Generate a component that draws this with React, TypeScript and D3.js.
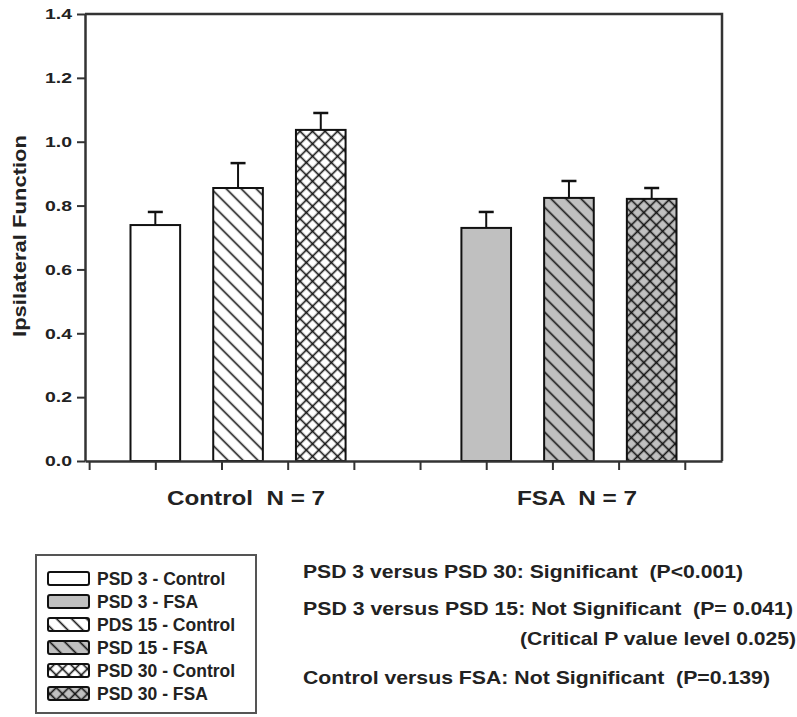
import React, { useEffect, useRef } from 'react';
import * as d3 from 'd3';

// values
const groupLabels = ['Control  N = 7', 'FSA  N = 7'];
const controlMeans = [0.739, 0.855, 1.037];
const controlErr = [0.041, 0.078, 0.053];
const fsaMeans = [0.730, 0.824, 0.821];
const fsaErr = [0.050, 0.053, 0.034];
const yTicks = [0, 0.2, 0.4, 0.6, 0.8, 1.0, 1.2, 1.4];
const legendLabels = [
  'PSD 3 - Control',
  'PSD 3 - FSA',
  'PDS 15 - Control',
  'PSD 15 - FSA',
  'PSD 30 - Control',
  'PSD 30 - FSA',
];
const statLines = [
  'PSD 3 versus PSD 30: Significant  (P<0.001)',
  'PSD 3 versus PSD 15: Not Significant  (P= 0.041)',
  '(Critical P value level 0.025)',
  'Control versus FSA: Not Significant  (P=0.139)',
];

const FONT = '"Liberation Sans", Arial, Helvetica, sans-serif';
const W = 797;
const H = 717;
const margin = { left: 85, top: 14, right: 722, bottom: 461 };

type Bar = { pos: number; mean: number; err: number; fill: string; pattern: string };

const bars: Bar[] = [
  ...controlMeans.map((m, i) => ({
    pos: i,
    mean: m,
    err: controlErr[i],
    fill: '#ffffff',
    pattern: ['none', 'hatchW', 'crossW'][i],
  })),
  ...fsaMeans.map((m, i) => ({
    pos: i + 4,
    mean: m,
    err: fsaErr[i],
    fill: '#c0c0c0',
    pattern: ['none', 'hatchG', 'crossG'][i],
  })),
];

const legendStyles = [
  { fill: '#ffffff', pattern: 'none' },
  { fill: '#c0c0c0', pattern: 'none' },
  { fill: '#ffffff', pattern: 'hatchW' },
  { fill: '#c0c0c0', pattern: 'hatchG' },
  { fill: '#ffffff', pattern: 'crossW' },
  { fill: '#c0c0c0', pattern: 'crossG' },
];

const pre = { whiteSpace: 'pre' as const };

const App = () => {
  const axRef = useRef<SVGGElement>(null);

  const x = d3.scaleLinear().domain([-0.85, 6.85]).range([margin.left, margin.right]);
  const y = d3.scaleLinear().domain([0, 1.4]).range([margin.bottom, margin.top]);
  const barW = x(0.6) - x(0);

  useEffect(() => {
    const g = d3.select(axRef.current);
    g.selectAll('*').remove();

    const yAxis = d3.axisLeft(y).tickValues(yTicks).tickFormat(d3.format('.1f')).tickSize(8).tickSizeOuter(0).tickPadding(5);
    const ya = g.append('g').attr('transform', `translate(${margin.left},0)`).call(yAxis);
    ya.selectAll('text')
      .attr('font-family', FONT)
      .attr('font-weight', 'bold')
      .attr('font-size', 15)
      .attr('fill', '#222')
      .attr('textLength', 27)
      .attr('lengthAdjust', 'spacingAndGlyphs');

    const xAxis = d3.axisBottom(x).tickValues(d3.range(10).map(k => -0.8 + 0.8 * k)).tickSize(9).tickSizeOuter(0).tickFormat(() => '');
    const xa = g.append('g').attr('transform', `translate(0,${margin.bottom})`).call(xAxis);

    g.selectAll('.domain').attr('stroke', '#333').attr('stroke-width', 2.5);
    g.selectAll('.tick line').attr('stroke', '#333').attr('stroke-width', 2);
    xa.raise();
  }, []);

  return (
    <svg width={W} height={H} style={{ display: 'block', position: 'absolute', left: 0, top: 0, background: '#fff' }}>
      <defs>
        {[['W', '#ffffff'], ['G', '#c0c0c0']].map(([k, c]) => (
          <React.Fragment key={k}>
            <pattern id={'hatch' + k} patternUnits="userSpaceOnUse" width={10.6} height={10.6} patternTransform="rotate(-45)">
              <rect width={10.6} height={10.6} fill={c} />
              <line x1={5.3} y1={0} x2={5.3} y2={10.6} stroke="#111" strokeWidth={1.6} />
            </pattern>
            <pattern id={'cross' + k} patternUnits="userSpaceOnUse" width={8.84} height={8.84} patternTransform="rotate(45)">
              <rect width={8.84} height={8.84} fill={c} />
              <line x1={4.42} y1={0} x2={4.42} y2={8.84} stroke="#111" strokeWidth={1.6} />
              <line x1={0} y1={4.42} x2={8.84} y2={4.42} stroke="#111" strokeWidth={1.6} />
            </pattern>
          </React.Fragment>
        ))}
      </defs>

      {/* frame: top and right */}
      <path
        d={`M${margin.left},${margin.top}H${margin.right}V${margin.bottom}`}
        fill="none"
        stroke="#333"
        strokeWidth={2.5}
      />

      {/* bars with upward error bars */}
      {bars.map((b, i) => {
        const cx = x(b.pos);
        const top = y(b.mean);
        const et = y(b.mean + b.err);
        return (
          <g key={i}>
            <line x1={cx} x2={cx} y1={top} y2={et} stroke="#111" strokeWidth={2} />
            <line x1={cx - 7.5} x2={cx + 7.5} y1={et} y2={et} stroke="#111" strokeWidth={2.5} />
            <rect
              x={cx - barW / 2}
              y={top}
              width={barW}
              height={y(0) - top}
              fill={b.pattern === 'none' ? b.fill : `url(#${b.pattern})`}
              stroke="#111"
              strokeWidth={2}
            />
          </g>
        );
      })}

      <g ref={axRef} />

      {/* y title */}
      <text
        transform={`translate(26,236) rotate(-90)`}
        textAnchor="middle"
        fontFamily={FONT}
        fontWeight="bold"
        fontSize={18.5}
        fill="#222"
        textLength={202}
        lengthAdjust="spacingAndGlyphs"
      >
        Ipsilateral Function
      </text>

      {/* group labels */}
      {groupLabels.map((l, i) => (
        <text
          key={l}
          x={x(i * 4 + 1) + 8}
          y={505}
          textAnchor="middle"
          fontFamily={FONT}
          fontWeight="bold"
          fontSize={20}
          fill="#222"
          style={pre}
          textLength={i === 0 ? 158 : 120}
          lengthAdjust="spacingAndGlyphs"
        >
          {l}
        </text>
      ))}

      {/* legend */}
      <rect x={36} y={555} width={220} height={158} fill="#fff" stroke="#555" strokeWidth={2} />
      {legendLabels.map((l, i) => {
        const cy = 578.5 + i * 23;
        const st = legendStyles[i];
        return (
          <g key={l}>
            <rect
              x={48}
              y={cy - 6.5}
              width={41}
              height={13}
              rx={2}
              fill={st.pattern === 'none' ? st.fill : `url(#${st.pattern})`}
              stroke="#111"
              strokeWidth={2}
            />
            <text x={97} y={cy + 6.5} fontFamily={FONT} fontWeight="bold" fontSize={17.5} fill="#222">
              {l}
            </text>
          </g>
        );
      })}

      {/* statistics notes */}
      {statLines.map((s, i) => {
        const pos = [
          { x: 303, y: 578, len: 440 },
          { x: 303, y: 615, len: 490 },
          { x: 520, y: 645, len: 276 },
          { x: 303, y: 684, len: 467 },
        ][i];
        return (
          <text
            key={s}
            x={pos.x}
            y={pos.y}
            fontFamily={FONT}
            fontWeight="bold"
            fontSize={19}
            fill="#222"
            style={pre}
            textLength={pos.len}
            lengthAdjust="spacingAndGlyphs"
          >
            {s}
          </text>
        );
      })}
    </svg>
  );
};

export default App;
